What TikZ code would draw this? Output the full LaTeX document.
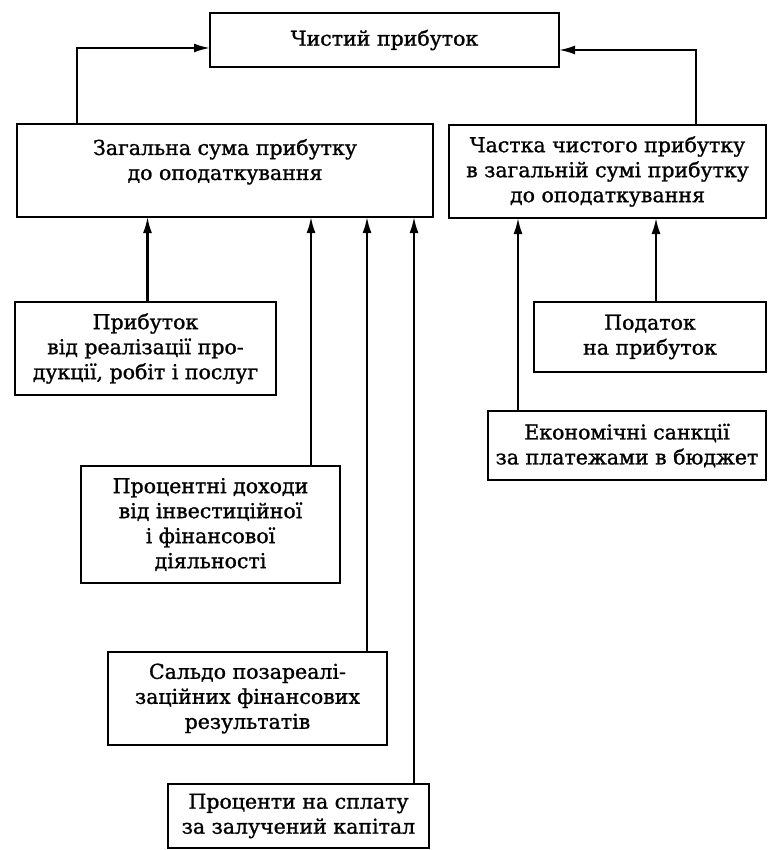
\documentclass[tikz,border=0pt]{standalone}
\usepackage{fontspec}
\setmainfont{DejaVu Serif}
\newfontfamily\boxface{DejaVu Serif}[FakeBold=1.2]
\usetikzlibrary{arrows.meta, positioning}
\newcommand\boxfont{\boxface\fontsize{20.5}{25}\selectfont}

\begin{document}
\begin{tikzpicture}[
  x=1pt, y=-1pt,
  box/.style={draw, line width=2.1pt, inner sep=0pt, outer sep=0pt,
              anchor=north west, align=center, font=\boxfont},
  arr/.style={-{Latex[length=16pt,width=9pt]}, line width=2.1pt},
]
  \useasboundingbox (0,0) rectangle (768,850);

  \node[box, minimum width=349pt, minimum height=54pt] (net) at (210,13) {Чистий прибуток};
  \node[box, minimum width=416pt, minimum height=93pt, text depth=22pt] (sum) at (17,124)
    {Загальна сума прибутку\\до оподаткування};
  \node[box, minimum width=317pt, minimum height=93pt] (share) at (449,125)
    {Частка чистого прибутку\\в загальній сумі прибутку\\до оподаткування};

  \node[box, minimum width=261pt, minimum height=93pt] (sales) at (15,302)
    {Прибуток\\від реалізації про-\\дукції, робіт і послуг};
  \node[box, minimum width=232pt, minimum height=70pt] (tax) at (534,302)
    {Податок\\на прибуток};
  \node[box, minimum width=278pt, minimum height=69pt] (sanct) at (488,411)
    {Економічні санкції\\за платежами в бюджет};
  \node[box, minimum width=259pt, minimum height=117pt] (invest) at (81,466)
    {Процентні доходи\\від інвестиційної\\і фінансової\\діяльності};
  \node[box, minimum width=279pt, minimum height=93pt] (saldo) at (108,652)
    {Сальдо позареалі-\\заційних фінансових\\результатів};
  \node[box, minimum width=261pt, minimum height=64pt] (loan) at (168,784)
    {Проценти на сплату\\за залучений капітал};

  % to net profit
  \draw[arr] ([xshift=60pt]sum.north west) |- ([yshift=-8pt]net.west);
  \draw[arr] ([xshift=-70pt]share.north east) |- ([yshift=-10pt]net.east);

  % into the pre-tax sum
  \draw[arr] ([xshift=2pt]sales.north) -- ([xshift=2pt]sales.north |- sum.south);
  \draw[arr] ([xshift=-29pt]invest.north east) -- ([xshift=-29pt]invest.north east |- sum.south);
  \draw[arr] ([xshift=-20pt]saldo.north east) -- ([xshift=-20pt]saldo.north east |- sum.south);
  \draw[arr] ([xshift=-15pt]loan.north east) -- ([xshift=-15pt]loan.north east |- sum.south);

  % into the share
  \draw[arr] ([xshift=30pt]sanct.north west) -- ([xshift=30pt]sanct.north west |- share.south);
  \draw[arr] ([xshift=6pt]tax.north) -- ([xshift=6pt]tax.north |- share.south);
\end{tikzpicture}
\end{document}
